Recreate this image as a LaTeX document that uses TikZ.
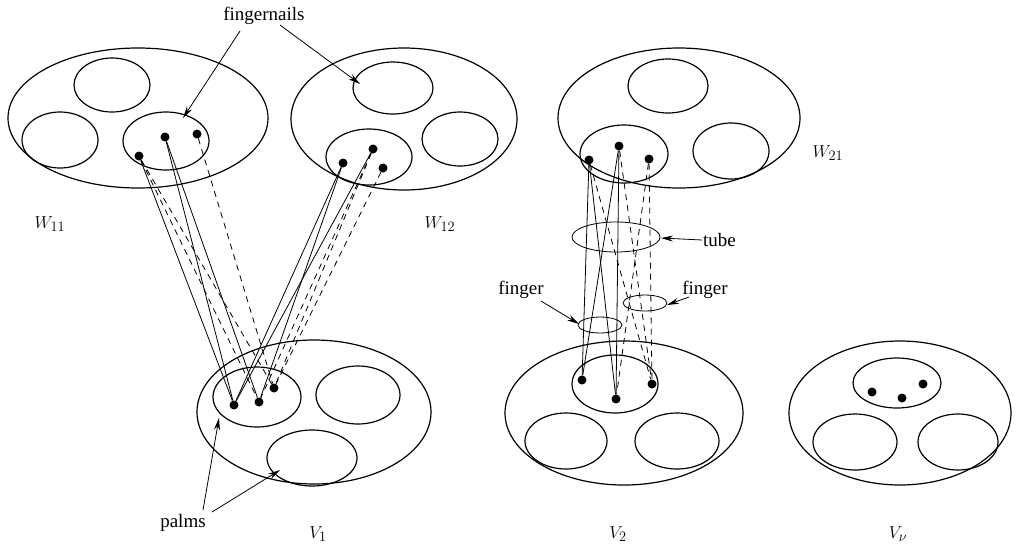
\documentclass[tikz,border=0pt]{standalone}
\usepackage{fontspec}
\setmainfont{Liberation Serif}
\usetikzlibrary{shapes.geometric,arrows.meta}
\begin{document}
\begin{tikzpicture}[x=1pt,y=-1pt,
  set/.style={draw,ellipse,line width=1.2pt,inner sep=0pt},
  thin set/.style={draw,ellipse,line width=0.8pt,inner sep=0pt},
  dot/.style={circle,fill,inner sep=0pt,minimum size=9pt},
  link/.style={line width=0.8pt},
  dlink/.style={line width=0.8pt,dash pattern=on 6pt off 5pt},
  lab/.style={font=\fontsize{19}{23}\selectfont,inner sep=1pt},
  pointer/.style={line width=0.8pt,-{Stealth[length=12pt,width=6pt]}}]
\useasboundingbox (0,0) rectangle (1025,550);

% ---------- W11 ----------
\node[set,minimum width=260pt,minimum height=140pt] (W11) at (138,118) {};
\node[set,minimum width=76pt,minimum height=54pt] (W11a) at (112,85) {};
\node[set,minimum width=76pt,minimum height=56pt] (W11b) at (60,140) {};
\node[set,minimum width=86pt,minimum height=58pt] (W11c) at (166,141) {};
\node[dot] (p1) at (139,156) {};
\node[dot] (p2) at (165,137) {};
\node[dot] (p3) at (197,134) {};

% ---------- W12 ----------
\node[set,minimum width=226pt,minimum height=142pt] (W12) at (404,119) {};
\node[set,minimum width=80pt,minimum height=52pt] (W12a) at (393,88) {};
\node[set,minimum width=76pt,minimum height=54pt] (W12b) at (460,139) {};
\node[set,minimum width=86pt,minimum height=56pt] (W12c) at (369,157) {};
\node[dot] (q1) at (343,163) {};
\node[dot] (q2) at (373,149) {};
\node[dot] (q3) at (383,168) {};

% ---------- V1 ----------
\node[set,minimum width=234pt,minimum height=144pt] (V1) at (314,412) {};
\node[set,minimum width=88pt,minimum height=60pt] (V1a) at (257,397) {};
\node[set,minimum width=84pt,minimum height=58pt] (V1b) at (358,395) {};
\node[set,minimum width=90pt,minimum height=56pt] (V1c) at (312,458) {};
\node[dot] (r1) at (234,405) {};
\node[dot] (r2) at (259,402) {};
\node[dot] (r3) at (274,388) {};

% links W11 - V1
\draw[link] (p1) -- (r1);
\draw[dlink] (p1) -- (r2);
\draw[dlink] (p1) -- (r3);
\draw[link] (p2) -- (r1);
\draw[link] (p2) -- (r2);
\draw[dlink] (p3) -- (r3);
% links W12 - V1
\draw[link] (q1) -- (r1);
\draw[link] (q1) -- (r2);
\draw[link] (q2) -- (r1);
\draw[dlink] (q2) -- (r2);
\draw[dlink] (q2) -- (r3);
\draw[dlink] (q3) -- (r3);

% ---------- W21 ----------
\node[set,minimum width=242pt,minimum height=140pt] (W21) at (679,118) {};
\node[set,minimum width=80pt,minimum height=54pt] (W21a) at (668,86) {};
\node[set,minimum width=76pt,minimum height=56pt] (W21b) at (731,151) {};
\node[set,minimum width=88pt,minimum height=58pt] (W21c) at (624,154) {};
\node[dot] (s1) at (589,160) {};
\node[dot] (s2) at (619,146) {};
\node[dot] (s3) at (649,159) {};

% ---------- V2 ----------
\node[set,minimum width=238pt,minimum height=144pt] (V2) at (624,413) {};
\node[set,minimum width=86pt,minimum height=58pt] (V2a) at (615,384) {};
\node[set,minimum width=82pt,minimum height=56pt] (V2b) at (566,441) {};
\node[set,minimum width=84pt,minimum height=56pt] (V2c) at (677,441) {};
\node[dot] (t1) at (582,380) {};
\node[dot] (t2) at (616,399) {};
\node[dot] (t3) at (652,384) {};

% links W21 - V2
\draw[link] (s1) -- (t1);
\draw[link] (s1) -- (t2);
\draw[link] (s2) -- (t1);
\draw[link] (s2) -- (t2);
\draw[dlink] (s1) -- (t3);
\draw[dlink] (s2) -- (t3);
\draw[dlink] (s3) -- (t3);
\draw[dlink] (s3) -- (t2);

% tube and fingers
\node[thin set,minimum width=88pt,minimum height=30pt] (tube) at (616,237) {};
\node[thin set,minimum width=44pt,minimum height=16pt] (fingR) at (645,303) {};
\node[thin set,minimum width=44pt,minimum height=16pt] (fingL) at (600,325) {};

% ---------- V nu ----------
\node[set,minimum width=222pt,minimum height=144pt] (Vn) at (900,413) {};
\node[set,minimum width=88pt,minimum height=50pt] (Vna) at (897,383) {};
\node[set,minimum width=84pt,minimum height=56pt] (Vnb) at (855,442) {};
\node[set,minimum width=80pt,minimum height=56pt] (Vnc) at (958,442) {};
\node[dot] (u1) at (872,392) {};
\node[dot] (u2) at (902,398) {};
\node[dot] (u3) at (923,384) {};

% ---------- labels ----------
\node[lab] (fn) at (264,16) {fingernails};
\coordinate (fnA) at (240,31);
\coordinate (fnB) at (280,25);
\coordinate (fnTipA) at (183,118);
\coordinate (fnTipB) at (360,84);
\draw[pointer] (fnA) -- (fnTipA);
\draw[pointer] (fnB) -- (fnTipB);

\node[lab] (lW11) at (50,224) {$W_{11}$};
\node[lab] (lW12) at (440,224) {$W_{12}$};
\node[lab] (lW21) at (828,153) {$W_{21}$};
\node[lab] (lV1) at (318,534) {$V_1$};
\node[lab] (lV2) at (618,534) {$V_2$};
\node[lab] (lVn) at (898,534) {$V_\nu$};

\node[lab] (palms) at (183,523) {palms};
\coordinate (pA) at (203,510);
\coordinate (pB) at (212,512);
\coordinate (pTipA) at (219,418);
\coordinate (pTipB) at (280,470);
\draw[pointer] (pA) -- (pTipA);
\draw[pointer] (pB) -- (pTipB);

\node[lab,anchor=west] (ltube) at (702,240) {tube};
\coordinate (tubeTip) at (661,238);
\draw[pointer] (ltube.west) -- (tubeTip);

\node[lab] (lfR) at (705,290) {finger};
\coordinate (fRs) at (689,297);
\coordinate (fRtip) at (667,305);
\draw[pointer] (fRs) -- (fRtip);

\node[lab] (lfL) at (521,290) {finger};
\coordinate (fLs) at (541,301);
\coordinate (fLtip) at (579,324);
\draw[pointer] (fLs) -- (fLtip);
\end{tikzpicture}
\end{document}
